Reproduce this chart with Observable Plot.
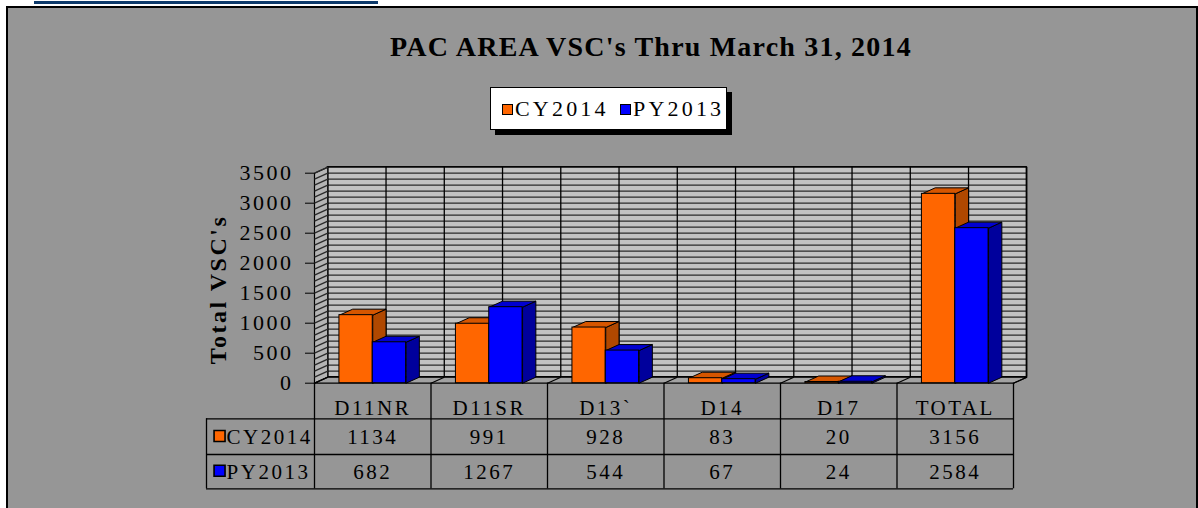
<!DOCTYPE html>
<html>
<head>
<meta charset="utf-8">
<script src="https://cdn.jsdelivr.net/npm/d3@7"></script>
<script src="https://cdn.jsdelivr.net/npm/@observablehq/plot@0.6"></script>
<style>
  html, body { margin: 0; padding: 0; background: #fff; width: 1198px; height: 508px; overflow: hidden;
    font-family: "Liberation Serif", "Times New Roman", serif; }
  #topline { position: absolute; left: 34px; top: 1px; width: 344px; height: 3px; background: #0d3a6b; }
  #panel { position: absolute; left: 6px; top: 6px; width: 1188px; height: 520px; background: #969696; border: 2px solid #000; }
  #title { position: absolute; left: 351px; width: 600px; top: 30px; text-align: center; font-weight: bold;
    font-size: 28px; letter-spacing: 1.2px; line-height: 34px; color: #000; white-space: nowrap; }
  #legend { position: absolute; left: 490px; top: 87px; width: 235px; height: 41px; background: #fff;
    border: 1px solid #000; box-shadow: 5px 5px 0 #000; }
  .lg-item { position: absolute; top: 8px; font-size: 22px; letter-spacing: 3.2px; line-height: 26px; color: #000; white-space: nowrap; }
  .lg-sw { display: inline-block; width: 9px; height: 9px; border: 1.5px solid #000; margin-right: 2px; vertical-align: 1px; }
  #chart { position: absolute; left: 0; top: 150px; }
  #chart svg text { letter-spacing: 2.5px; font-family: "Liberation Serif", "Times New Roman", serif; }
</style>
</head>
<body>
<div id="topline"></div>
<div id="panel"></div>
<div id="title">PAC AREA VSC's Thru March 31, 2014</div>
<div id="legend"></div>
<div id="chart"></div>
<script>
// ---- data ----
const categories = ["D11NR", "D11SR", "D13`", "D14", "D17", "TOTAL"];
const cy2014 = [1134, 991, 928, 83, 20, 3156];
const py2013 = [682, 1267, 544, 67, 24, 2584];
const seriesNames = ["CY2014", "PY2013"];
const yTicks = [0, 500, 1000, 1500, 2000, 2500, 3000, 3500];

// ---- styles ----
const frontColors = ["#FF6600", "#0000FF"];
const topColors = ["#D65600", "#0000D0"];
const sideColors = ["#B04800", "#00009C"];

// legend (HTML)
const legend = document.getElementById("legend");
const lgX = [11, 129];
seriesNames.forEach((name, i) => {
  const item = document.createElement("div");
  item.className = "lg-item";
  item.style.left = lgX[i] + "px";
  item.innerHTML = `<span class="lg-sw" style="background:${frontColors[i]}"></span>${name}`;
  legend.appendChild(item);
});

// geometry (in scale units)
const nCat = categories.length;
const barW = 0.286;      // bar width as fraction of a category
const dX = 0.114;        // 3D depth offset in category units
const dY = 100;          // 3D depth offset in value units
const wallTop = yTicks[yTicks.length - 1];
const gridVals = d3.range(0, wallTop + 1, 100);
const vGrid = d3.range(0, nCat + 0.01, 0.5);
const labelX = -0.927;   // left edge of the table's label column
const rowLines = [-593, -1188, -1760];
const headerY = -413, rowY = [-905, -1485];

const values = [cy2014, py2013];

function polys(builder) {
  const out = [];
  categories.forEach((c, i) => {
    seriesNames.forEach((s, k) => {
      const v = values[k][i];
      const x1 = k === 0 ? i + 0.5 - barW : i + 0.5;
      const x2 = x1 + barW;
      builder(out, `${c}-${s}`, k, v, x1, x2);
    });
  });
  return out;
}
const pts = (id, k, arr) => arr.map(([x, y]) => ({id, k, x, y}));
const tops = polys((out, id, k, v, x1, x2) => out.push(...pts(id, k,
  [[x1, v], [x2, v], [x2 + dX, v + dY], [x1 + dX, v + dY], [x1, v]])));
const sides = polys((out, id, k, v, x1, x2) => out.push(...pts(id, k,
  [[x2, 0], [x2 + dX, dY], [x2 + dX, v + dY], [x2, v], [x2, 0]])));
const fronts = polys((out, id, k, v, x1, x2) => out.push({id, k, x1, x2, v}));

const sideWall = pts("sw", 0, [[0, 0], [dX, dY], [dX, wallTop + dY], [0, wallTop], [0, 0]]);
const floor = pts("fl", 0, [[0, 0], [nCat, 0], [nCat + dX, dY], [dX, dY], [0, 0]]);

const barMarks = [];
[0, 1].forEach(k => {
  barMarks.push(
    Plot.line(sides.filter(d => d.k === k), {x: "x", y: "y", z: "id", fill: sideColors[k], stroke: "#000", strokeWidth: 1, curve: "linear"}),
    Plot.line(tops.filter(d => d.k === k), {x: "x", y: "y", z: "id", fill: topColors[k], stroke: "#000", strokeWidth: 1, curve: "linear"}),
    Plot.rect(fronts.filter(d => d.k === k), {x1: "x1", x2: "x2", y1: 0, y2: "v", fill: frontColors[k], stroke: "#000", strokeWidth: 1})
  );
});

const chart = Plot.plot({
  width: 1198,
  height: 358,
  marginTop: 22.7,
  marginBottom: 125.3,
  marginLeft: 314,
  marginRight: 185,
  style: {background: "none", fontFamily: "'Liberation Serif', 'Times New Roman', serif", fontSize: "22px", color: "#000", overflow: "visible"},
  x: {type: "linear", domain: [0, nCat], axis: null},
  y: {domain: [0, wallTop], ticks: yTicks, tickSize: 9, tickPadding: 12, tickFormat: d => `${d}`, label: null},
  marks: [
    // back wall
    Plot.rect([0], {x1: dX, x2: nCat + dX, y1: dY, y2: wallTop + dY, fill: "#C2C2C2"}),
    Plot.ruleY(gridVals, {y: d => d + dY, x1: dX, x2: nCat + dX, stroke: "#2a2a2a", strokeWidth: 1.3}),
    Plot.ruleX(vGrid, {x: d => d + dX, y1: dY, y2: wallTop + dY, stroke: "#000", strokeWidth: 1.3}),
    Plot.rect([0], {x1: dX, x2: nCat + dX, y1: dY, y2: wallTop + dY, fill: "none", stroke: "#000", strokeWidth: 1.3}),
    // side wall
    Plot.line(sideWall, {x: "x", y: "y", z: "id", fill: "#B4B4B4", stroke: "#000", strokeWidth: 1.2}),
    Plot.link(gridVals, {x1: 0, y1: d => d, x2: dX, y2: d => d + dY, stroke: "#2a2a2a", strokeWidth: 1.3}),
    // floor
    Plot.line(floor, {x: "x", y: "y", z: "id", fill: "#A2A2A2", stroke: "#000", strokeWidth: 1.2}),
    Plot.link(d3.range(0, nCat + 1), {x1: d => d, y1: 0, x2: d => d + dX, y2: dY, stroke: "#000", strokeWidth: 1.2}),
    // bars
    ...barMarks,
    // table grid
    Plot.ruleY(rowLines, {y: d => d, x1: labelX, x2: nCat, stroke: "#000", strokeWidth: 1.3}),
    Plot.ruleX(d3.range(0, nCat + 1), {x: d => d, y1: 0, y2: rowLines[2], stroke: "#000", strokeWidth: 1.3}),
    Plot.ruleX([labelX], {x: d => d, y1: rowLines[0], y2: rowLines[2], stroke: "#000", strokeWidth: 1.3}),
    // table text
    Plot.text(categories, {x: (d, i) => i + 0.5, y: headerY, text: d => d, fontSize: 21, fill: "#000"}),
    Plot.text(categories, {x: (d, i) => i + 0.5, y: rowY[0], text: (d, i) => `${cy2014[i]}`, fontSize: 21, fill: "#000"}),
    Plot.text(categories, {x: (d, i) => i + 0.5, y: rowY[1], text: (d, i) => `${py2013[i]}`, fontSize: 21, fill: "#000"}),
    Plot.dot(seriesNames, {x: -0.815, y: (d, i) => rowY[i] + 25, symbol: "square", r: 6.2, fill: (d, i) => frontColors[i], stroke: "#000", strokeWidth: 1.6}),
    Plot.text(seriesNames, {x: -0.755, y: (d, i) => rowY[i], text: d => d, textAnchor: "start", fontSize: 21, fill: "#000"}),
    // y axis title
    Plot.text(["Total VSC's"], {x: -0.824, y: 1562, text: d => d, rotate: -90, fontSize: 24, fontWeight: "bold", fill: "#000"})
  ]
});
document.getElementById("chart").appendChild(chart);
</script>
</body>
</html>
